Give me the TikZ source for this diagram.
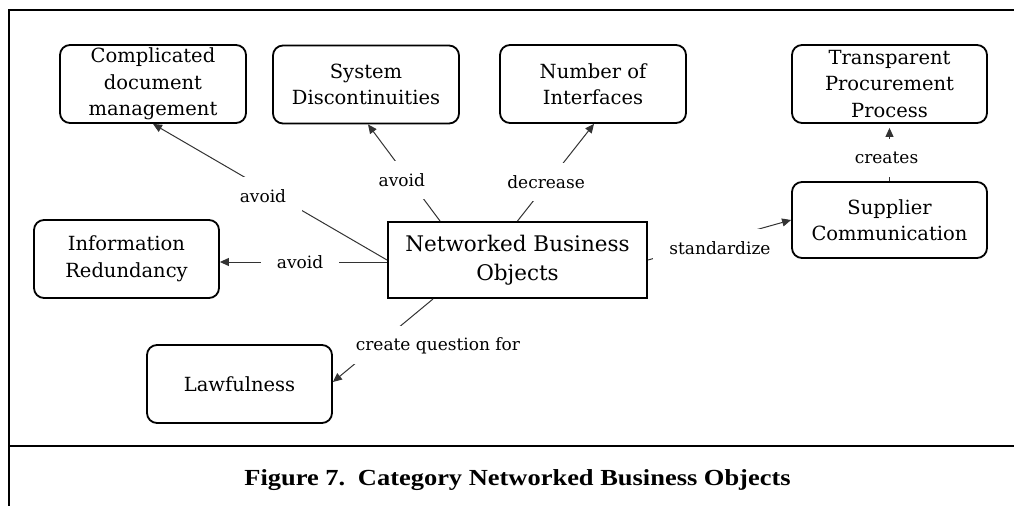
\documentclass[tikz,border=0pt]{standalone}
\usepackage{fontspec}
\setmainfont{DejaVu Serif}
\newfontfamily\capfont[FakeStretch=1.15]{Liberation Serif}
\usetikzlibrary{arrows.meta}
\begin{document}
\begin{tikzpicture}[x=1pt,y=-1pt,
  box/.style={draw, line width=1.8pt, rounded corners=10pt, minimum width=186pt,
    minimum height=78pt, inner sep=0pt, align=center,
    font=\fontsize{19.5}{26.5}\selectfont},
  mainbox/.style={draw, line width=2pt, minimum width=259pt, minimum height=76pt,
    inner sep=0pt, align=center, font=\fontsize{21.5}{29}\selectfont},
  conn/.style={line width=1pt, draw=black!80, -{Triangle[length=9pt,width=8pt]}},
  lbl/.style={fill=white, inner xsep=16pt, inner ysep=0pt, minimum height=38pt,
    font=\fontsize{17}{20}\selectfont, text=black},
  frame/.style={line width=2.6pt, line join=miter}
]
\useasboundingbox (0,0) rectangle (1014,506);
\draw[frame] (1014,10) -- (9,10) -- (9,506);
\draw[frame] (9,446) -- (1014,446);

\node[box] (cdm) at (153,84) {Complicated\\document\\management};
\node[box] (sd) at (366,84.5) {System\\Discontinuities};
\node[box] (noi) at (593,84) {Number of\\Interfaces};
\node[box, minimum width=195pt] (tpp) at (889.5,84) {Transparent\\Procurement\\Process};
\node[box, minimum width=195pt, minimum height=76pt] (sc) at (889.5,220) {Supplier\\Communication};
\node[box, minimum width=185pt] (ir) at (126.5,259) {Information\\Redundancy};
\node[mainbox] (nbo) at (517.5,260) {Networked Business\\Objects};
\node[box, minimum width=185pt] (law) at (239.5,384) {Lawfulness};

\draw[conn] (nbo.west) -- node[lbl, pos=0.53, yshift=-8pt] {avoid} (cdm.south);
\draw[conn] ([xshift=53pt]nbo.north west) -- node[lbl, pos=0.42, xshift=-8pt] {avoid} ([xshift=2pt]sd.south);
\draw[conn] (nbo.north) -- node[lbl, pos=0.4, xshift=-2pt] {decrease} ([xshift=1pt]noi.south);
\draw[conn] ([yshift=-2pt]nbo.west) -- node[lbl, pos=0.52] {avoid} ([yshift=-3pt]ir.east);
\draw[conn] ([xshift=-84.5pt]nbo.south) -- node[lbl, pos=0.56, xshift=61pt] {create question for} ([yshift=2pt]law.east);
\draw[conn] (nbo.east) -- node[lbl, pos=0.503, yshift=-8pt] {standardize} (sc.west);
\draw[conn, shorten >=4pt] (sc.north) -- node[lbl, pos=0.41, xshift=-3pt] {creates} (tpp.south);

\node[font=\capfont\bfseries\fontsize{23}{28}\selectfont] (cap) at (517.5,480)
  {Figure 7.\hspace{0.55em}Category Networked Business Objects};
\end{tikzpicture}
\end{document}
